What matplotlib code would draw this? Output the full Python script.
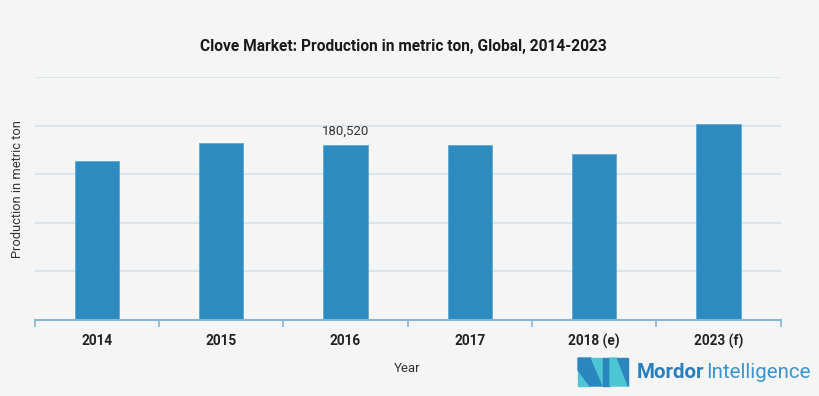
import matplotlib
matplotlib.use("Agg")
import matplotlib.pyplot as plt
import matplotlib.patches as mpatches
import numpy as np

# values (metric ton)
years = ["2014", "2015", "2016", "2017", "2018 (e)", "2023 (f)"]
production = [163900, 182600, 180520, 180300, 170500, 202200]
labelled = {2: "180,520"}

BG = "#f5f5f5"
BAR = "#2e8bbf"
GRID = "#d3e5ef"
AXIS = "#86b8d6"

plt.rcParams["font.family"] = ["Roboto", "DejaVu Sans"]

fig = plt.figure(figsize=(8.2, 3.96), dpi=100, facecolor=BG)
ax = fig.add_axes([0.0423, 0.1927, 0.9097, 0.6121], facecolor=BG)

x = np.arange(len(years))
ax.bar(x, production, width=0.355, color=BAR, edgecolor="#5fa6d2",
       linewidth=0.6, zorder=3)

for i, txt in labelled.items():
    ax.annotate(txt, (x[i], production[i]), xytext=(0, 5),
                textcoords="offset points", ha="center", va="bottom",
                fontsize=9.5, color="#333333")

ax.set_xlim(-0.5, len(years) - 0.5)
ax.set_ylim(0, 250000)
ax.set_yticks(np.arange(0, 250001, 50000))
ax.yaxis.grid(True, color=GRID, linewidth=1.3, zorder=0)
ax.tick_params(axis="y", length=0, labelleft=False)

ax.set_xticks(x)
ax.set_xticklabels(years, fontsize=9.8, fontweight="bold", color="#222222")
ax.set_xticks(np.arange(-0.5, len(years)), minor=True)
ax.tick_params(axis="x", which="major", length=0, pad=10)
ax.tick_params(axis="x", which="minor", length=5, width=1.2, color=AXIS,
               direction="out")

for side in ["top", "right", "left"]:
    ax.spines[side].set_visible(False)
ax.spines["bottom"].set_color(AXIS)
ax.spines["bottom"].set_linewidth(1.5)
ax.spines["bottom"].set_zorder(4)

ax.set_xlabel("Year", fontsize=9.5, color="#333333", labelpad=10)
ax.set_ylabel("Production in metric ton", fontsize=9.3, color="#333333")
ax.yaxis.set_label_coords(-0.0145, 0.54)

fig.text(0.492, 0.882, "Clove Market: Production in metric ton, Global, 2014-2023",
         ha="center", va="center", fontsize=11.2, fontweight="bold",
         color="#1a1a1a")

# Mordor Intelligence logo
W, H = 820.0, 396.0


def px(pts):
    return [(a / W, 1 - b / H) for a, b in pts]


DARK = "#2b86c0"
CYAN = "#4cc6d2"
logo = [
    ([(578, 370), (578, 386), (590, 386)], CYAN),
    ([(578, 358), (591, 358), (603, 386), (590, 386), (578, 370)], DARK),
    ([(591, 358), (603, 358), (603, 386)], CYAN),
    ([(603, 358), (610, 358), (610, 386), (603, 386)], DARK),
    ([(610, 358), (617, 358), (628, 386), (610, 386)], CYAN),
    ([(617, 358), (628, 358), (628, 386)], DARK),
]
for pts, col in logo:
    fig.patches.append(mpatches.Polygon(px(pts), closed=True, color=col,
                                        transform=fig.transFigure))

t1 = fig.text(637 / W, 1 - 373 / H, "Mordor", ha="left", va="center",
              fontsize=14.8, fontweight="bold", color="#2a7fbd")
fig.canvas.draw()
bb = t1.get_window_extent()
fig.text((bb.x1 + 2) / W, 1 - 373 / H, "Intelligence", ha="left", va="center",
         fontsize=14.8, color="#3b95cf")

fig.savefig("out.png", dpi=100, facecolor=BG)
